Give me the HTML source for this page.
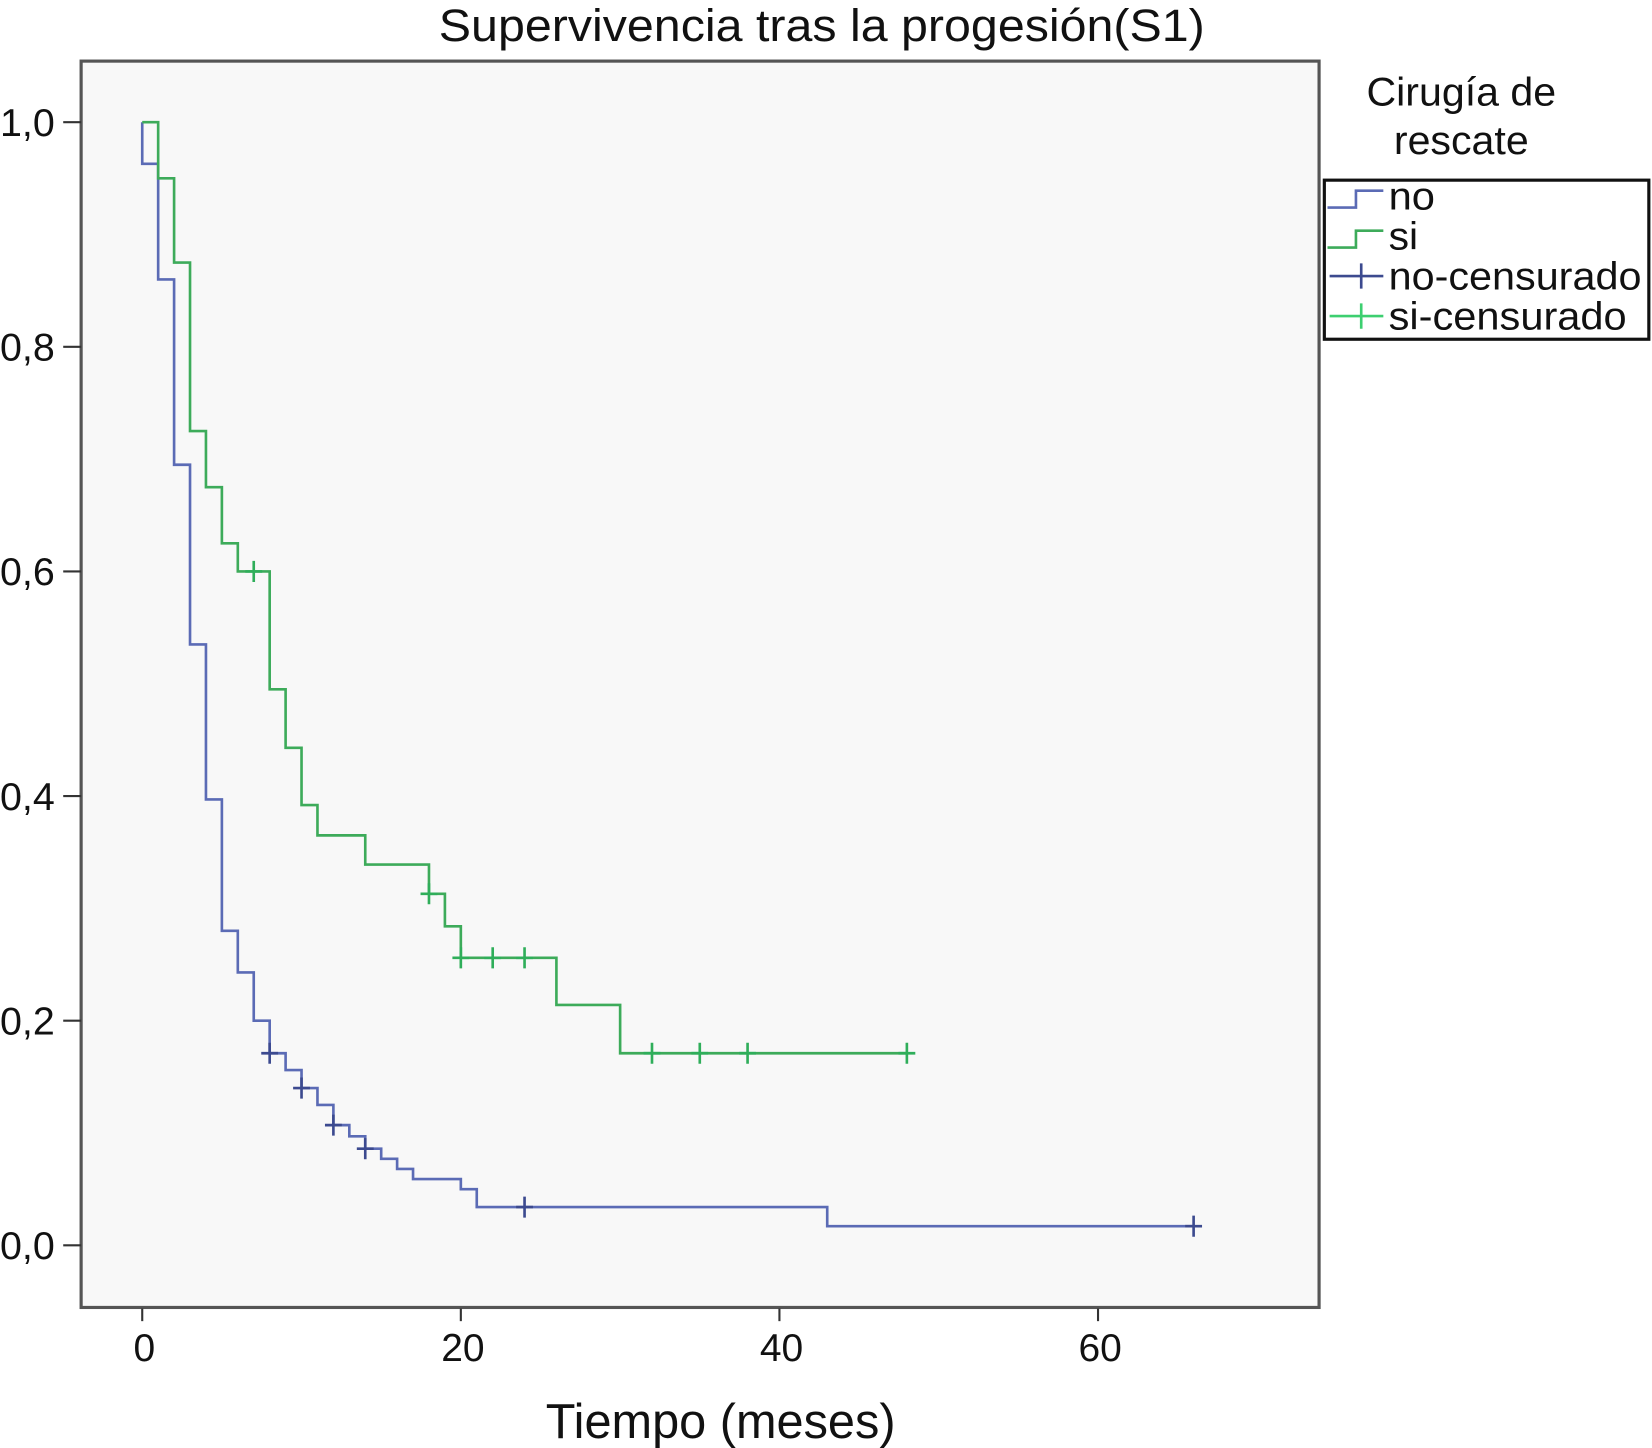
<!DOCTYPE html>
<html><head><meta charset="utf-8"><style>
html,body{margin:0;padding:0;background:#fff;}
svg{display:block;}
text{font-family:"Liberation Sans Narrow","Liberation Sans",sans-serif;fill:#111;}
</style></head><body>
<svg id="chart" width="1652" height="1448" viewBox="0 0 1568 1374.4" preserveAspectRatio="none" xmlns="http://www.w3.org/2000/svg">
<text x="780" y="39" font-size="43" text-anchor="middle" textLength="727" lengthAdjust="spacingAndGlyphs">Supervivencia tras la progesión(S1)</text>
<rect x="77" y="58" width="1175" height="1183" fill="#f8f8f8" stroke="#555" stroke-width="3"/>
<g id="axes"></g>
<g id="series"></g>
<text x="684" y="1365" font-size="47" text-anchor="middle" textLength="332" lengthAdjust="spacingAndGlyphs">Tiempo (meses)</text>
<text x="1387" y="100" font-size="38" text-anchor="middle" textLength="180" lengthAdjust="spacingAndGlyphs">Cirugía de</text>
<text x="1387" y="146" font-size="38" text-anchor="middle" textLength="128" lengthAdjust="spacingAndGlyphs">rescate</text>
<g>
<rect x="1257" y="171" width="308" height="151" fill="#fff" stroke="#111" stroke-width="3"/>
<path d="M1260 197 H1287 V181 H1313" fill="none" stroke="#5b6bb5" stroke-width="2.5"/>
<text x="1318" y="199" font-size="37" textLength="44" lengthAdjust="spacingAndGlyphs">no</text>
<path d="M1260 235 H1287 V219 H1313" fill="none" stroke="#3dab5a" stroke-width="2.5"/>
<text x="1318" y="237" font-size="37" textLength="28" lengthAdjust="spacingAndGlyphs">si</text>
<path d="M1262 262 H1313 M1292 250 V274" fill="none" stroke="#3c4a8f" stroke-width="2.5"/>
<text x="1318" y="275" font-size="37" textLength="240" lengthAdjust="spacingAndGlyphs">no-censurado</text>
<path d="M1262 300 H1313 M1292 288 V312" fill="none" stroke="#3dcf70" stroke-width="2.5"/>
<text x="1318" y="313" font-size="37" textLength="226" lengthAdjust="spacingAndGlyphs">si-censurado</text>
</g>
</svg>
<script>
const xTicks=[0,20,40,60];
const yTicks=[0,0.2,0.4,0.6,0.8,1.0];
const yTickLabels=["0,0","0,2","0,4","0,6","0,8","1,0"];
const noTimes=[0,0,1,2,3,4,5,6,7,8,9,10,11,12,13,14,15,16,17,20,21,43,66];
const noSurv=[1.0,0.963,0.86,0.695,0.535,0.397,0.28,0.243,0.20,0.171,0.156,0.14,0.125,0.107,0.097,0.086,0.077,0.068,0.059,0.05,0.034,0.017,0.017];
const noCensTimes=[8,10,12,14,24,66];
const noCensSurv=[0.171,0.14,0.107,0.086,0.034,0.017];
const siTimes=[0,1,2,3,4,5,6,8,9,10,11,14,18,19,20,26,30,48];
const siSurv=[1.0,0.95,0.875,0.725,0.675,0.625,0.60,0.495,0.443,0.392,0.365,0.339,0.313,0.284,0.256,0.214,0.171,0.171];
const siCensTimes=[7,18,20,22,24,32,35,38,48];
const siCensSurv=[0.60,0.313,0.256,0.256,0.256,0.171,0.171,0.171,0.171];

const NS="http://www.w3.org/2000/svg";
const X=t=>135+t*15.12;
const Y=s=>1182-s*1066;
const axes=document.getElementById('axes');
const series=document.getElementById('series');
function mk(tag,attrs,parent){const e=document.createElementNS(NS,tag);for(const k in attrs)e.setAttribute(k,attrs[k]);parent.appendChild(e);return e;}
xTicks.forEach(v=>{
  const l=mk('line',{x1:X(v),x2:X(v),y1:1242,y2:1254,stroke:'#333','stroke-width':2},axes);
  
  
  const t=mk('text',{x:X(v)+2,y:1292,'font-size':37,'text-anchor':'middle'},axes);
  t.textContent=v;
  
  
});
yTicks.forEach((v,i)=>{
  const l=mk('line',{x1:60,x2:77,y1:Y(v),y2:Y(v),stroke:'#333','stroke-width':2},axes);
  
  
  const t=mk('text',{x:0,y:Y(v)+13,'font-size':37,textLength:52,lengthAdjust:'spacingAndGlyphs'},axes);
  t.textContent=yTickLabels[i];
  
  
});
function stepPath(ts,ss){
  let d='M'+X(ts[0])+' '+Y(ss[0]);
  for(let i=1;i<ts.length;i++){d+=' H'+X(ts[i])+' V'+Y(ss[i]);}
  return d;
}
const pn=mk('path',{d:stepPath(noTimes,noSurv),fill:'none',stroke:'#5b6bb5','stroke-width':2.5},series);


const ps=mk('path',{d:stepPath(siTimes,siSurv),fill:'none',stroke:'#3dab5a','stroke-width':2.5},series);


function cens(ts,ss,color,name){
  ts.forEach((t,i)=>{
    const x=X(t),y=Y(ss[i]);
    const p=mk('path',{d:`M${x-8} ${y} H${x+8} M${x} ${y-10} V${y+10}`,stroke:color,'stroke-width':2.5,fill:'none'},series);
    
    
  });
}
cens(noCensTimes,noCensSurv,'#3c4a8f','censor-mark-no');
cens(siCensTimes,siCensSurv,'#2fae5a','censor-mark-si');
</script>
</body></html>
